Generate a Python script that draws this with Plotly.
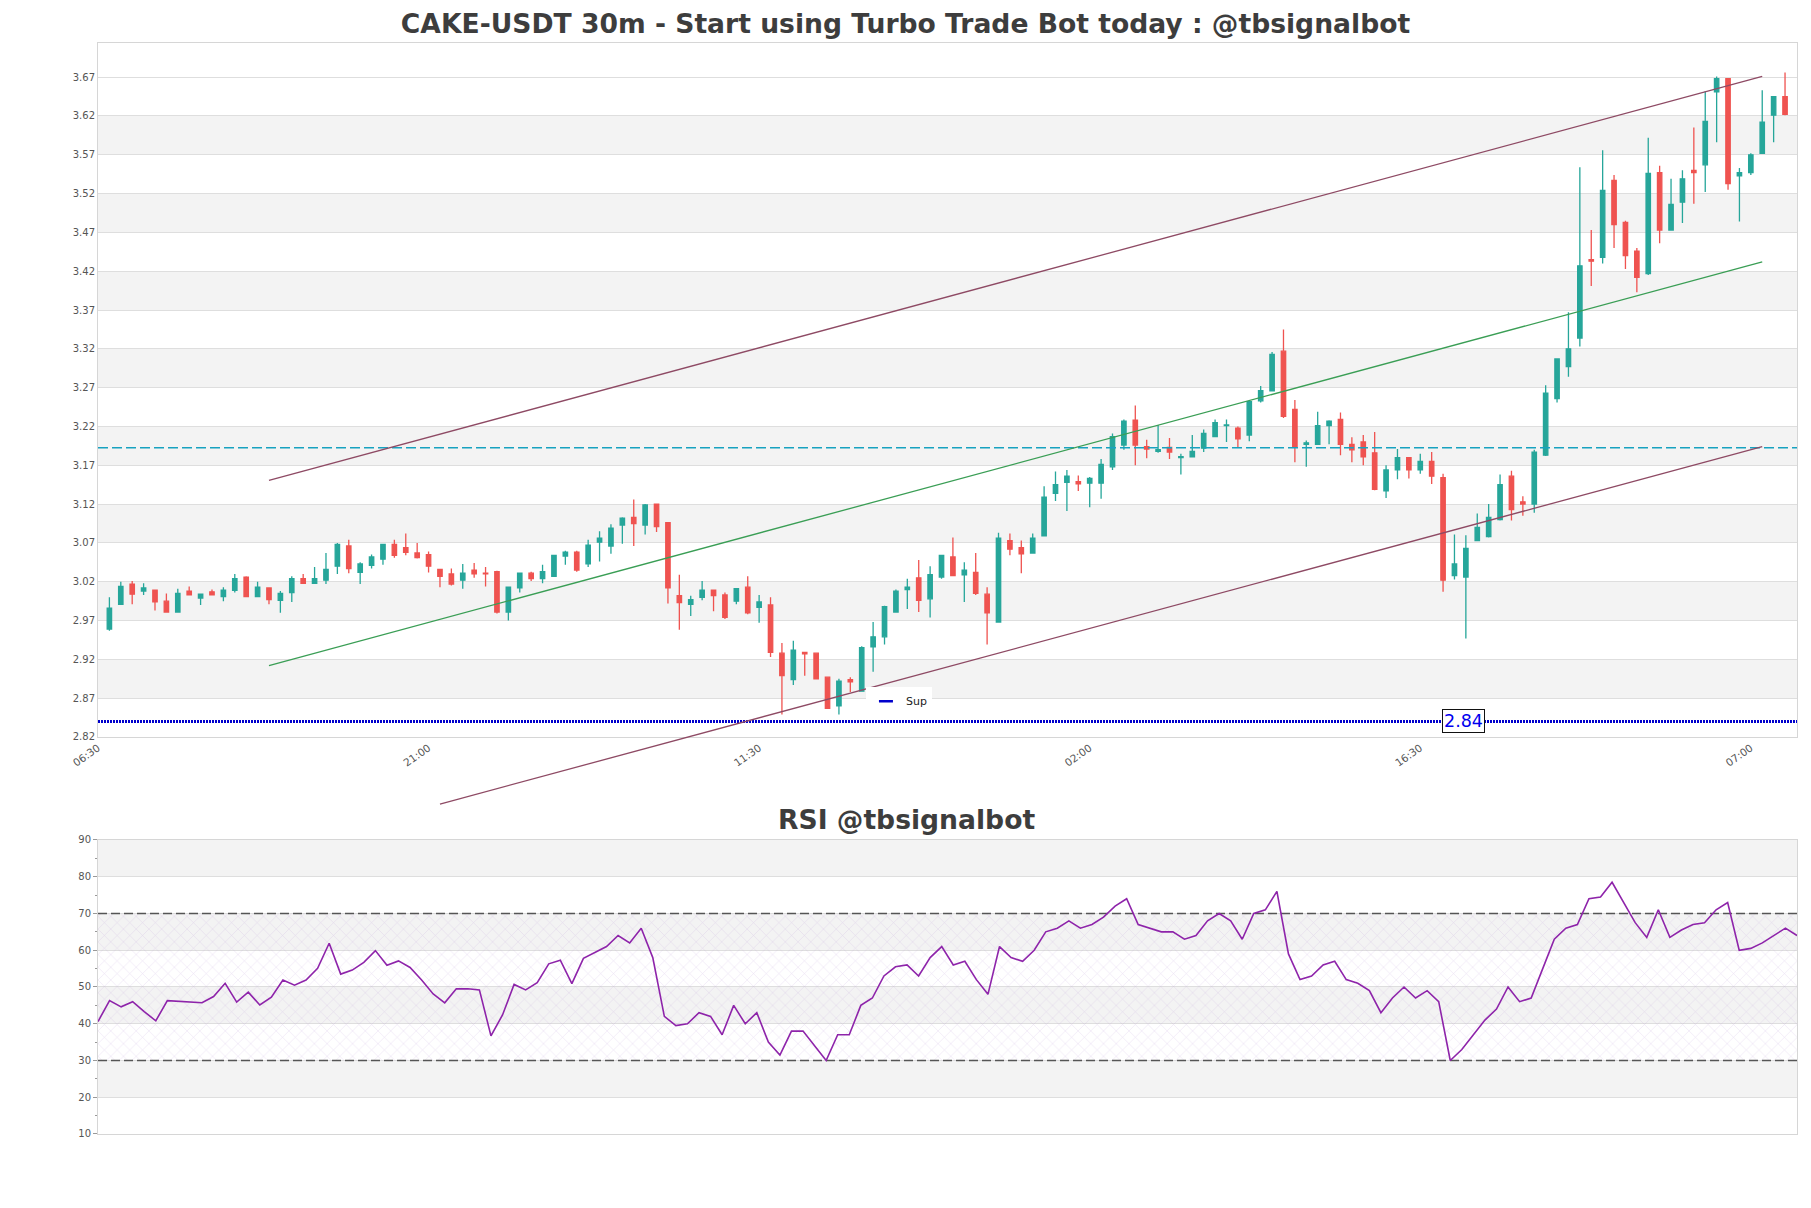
import plotly.graph_objects as go

# ---- candle data (30m bars, first bar 07:00) ----
opens = [2.959, 2.991, 3.017, 3.008, 3.009, 2.995, 2.981, 3.008, 2.999, 3.007,
         3.001, 3.009, 3.026, 3.001, 3.012, 2.996, 3.006, 3.024, 3.018, 3.022,
         3.040, 3.066, 3.032, 3.041, 3.049, 3.068, 3.064, 3.057, 3.055, 3.036,
         3.030, 3.022, 3.035, 3.031, 3.033, 2.981, 3.012, 3.031, 3.024, 3.027,
         3.053, 3.058, 3.043, 3.071, 3.066, 3.093, 3.103, 3.093, 3.120, 3.096,
         3.002, 2.991, 3.000, 3.009, 3.003, 2.995, 3.013, 2.987, 2.990, 2.928,
         2.894, 2.929, 2.928, 2.897, 2.860, 2.894, 2.879, 2.936, 2.949, 2.981,
         3.010, 3.025, 2.998, 3.026, 3.052, 3.029, 3.032, 3.004, 2.968, 3.073,
         3.064, 3.057, 3.079, 3.134, 3.148, 3.149, 3.147, 3.147, 3.168, 3.196,
         3.228, 3.194, 3.188, 3.193, 3.180, 3.181, 3.192, 3.207, 3.221, 3.218,
         3.209, 3.253, 3.266, 3.317, 3.242, 3.197, 3.197, 3.221, 3.229, 3.197,
         3.200, 3.186, 3.137, 3.164, 3.180, 3.164, 3.175, 3.154, 3.028, 3.026,
         3.073, 3.078, 3.100, 3.156, 3.123, 3.120, 3.183, 3.256, 3.297, 3.334,
         3.435, 3.438, 3.537, 3.483, 3.446, 3.417, 3.547, 3.473, 3.509, 3.550,
         3.557, 3.651, 3.668, 3.543, 3.547, 3.572, 3.621, 3.645]
highs = [3.000, 3.020, 3.021, 3.018, 3.009, 3.005, 3.011, 3.014, 3.005, 3.010,
         3.013, 3.030, 3.027, 3.020, 3.013, 3.008, 3.027, 3.030, 3.039, 3.057,
         3.070, 3.074, 3.045, 3.055, 3.068, 3.074, 3.082, 3.070, 3.059, 3.036,
         3.037, 3.043, 3.044, 3.039, 3.034, 3.013, 3.031, 3.033, 3.042, 3.054,
         3.060, 3.060, 3.074, 3.085, 3.094, 3.103, 3.126, 3.120, 3.120, 3.096,
         3.029, 3.002, 3.021, 3.009, 3.006, 3.012, 3.027, 3.003, 3.000, 2.941,
         2.944, 2.929, 2.928, 2.897, 2.895, 2.897, 2.937, 2.968, 2.989, 3.010,
         3.024, 3.048, 3.040, 3.054, 3.077, 3.045, 3.057, 3.013, 3.083, 3.082,
         3.073, 3.082, 3.143, 3.162, 3.164, 3.157, 3.155, 3.178, 3.211, 3.229,
         3.247, 3.203, 3.222, 3.205, 3.185, 3.209, 3.216, 3.229, 3.229, 3.220,
         3.252, 3.272, 3.316, 3.345, 3.254, 3.202, 3.239, 3.228, 3.238, 3.206,
         3.209, 3.213, 3.170, 3.191, 3.180, 3.185, 3.187, 3.159, 3.081, 3.080,
         3.108, 3.120, 3.158, 3.163, 3.130, 3.190, 3.273, 3.308, 3.367, 3.554,
         3.473, 3.576, 3.544, 3.485, 3.450, 3.592, 3.556, 3.539, 3.550, 3.605,
         3.652, 3.671, 3.668, 3.553, 3.572, 3.653, 3.645, 3.676]
lows = [2.957, 2.990, 2.991, 3.003, 2.983, 2.981, 2.981, 3.003, 2.990, 3.003,
        2.995, 3.006, 3.000, 3.001, 2.991, 2.980, 2.994, 3.018, 3.017, 3.017,
        3.030, 3.031, 3.017, 3.037, 3.042, 3.051, 3.054, 3.050, 3.032, 3.013,
        3.015, 3.011, 3.025, 3.014, 2.979, 2.970, 3.006, 3.021, 3.018, 3.027,
        3.042, 3.033, 3.039, 3.046, 3.056, 3.069, 3.066, 3.081, 3.084, 2.992,
        2.958, 2.976, 2.996, 2.982, 2.972, 2.991, 2.978, 2.967, 2.923, 2.849,
        2.887, 2.899, 2.895, 2.856, 2.849, 2.878, 2.879, 2.904, 2.939, 2.981,
        2.985, 2.981, 2.974, 3.024, 3.028, 2.994, 3.003, 2.939, 2.968, 3.054,
        3.031, 3.057, 3.079, 3.124, 3.111, 3.137, 3.116, 3.127, 3.164, 3.190,
        3.170, 3.179, 3.186, 3.178, 3.158, 3.181, 3.187, 3.207, 3.200, 3.193,
        3.201, 3.251, 3.266, 3.231, 3.174, 3.168, 3.197, 3.197, 3.183, 3.174,
        3.170, 3.138, 3.128, 3.152, 3.153, 3.159, 3.146, 3.007, 3.023, 2.947,
        3.072, 3.077, 3.099, 3.099, 3.105, 3.109, 3.182, 3.251, 3.284, 3.323,
        3.401, 3.430, 3.450, 3.423, 3.393, 3.415, 3.456, 3.472, 3.482, 3.507,
        3.522, 3.586, 3.525, 3.484, 3.544, 3.572, 3.586, 3.621]
closes = [2.986, 3.014, 3.004, 3.012, 2.994, 2.981, 3.005, 3.003, 3.004, 3.003,
          3.009, 3.024, 3.001, 3.013, 2.997, 3.005, 3.024, 3.018, 3.024, 3.036,
          3.068, 3.037, 3.043, 3.052, 3.068, 3.054, 3.058, 3.051, 3.040, 3.027,
          3.017, 3.031, 3.030, 3.030, 2.981, 3.013, 3.031, 3.024, 3.033, 3.054,
          3.058, 3.035, 3.067, 3.076, 3.089, 3.102, 3.095, 3.119, 3.091, 3.012,
          2.993, 2.997, 3.009, 3.002, 2.974, 3.011, 2.980, 2.994, 2.929, 2.899,
          2.932, 2.927, 2.895, 2.857, 2.892, 2.891, 2.935, 2.949, 2.988, 3.008,
          3.013, 2.996, 3.029, 3.054, 3.028, 3.035, 3.005, 2.980, 3.076, 3.062,
          3.056, 3.076, 3.129, 3.145, 3.156, 3.146, 3.153, 3.171, 3.207, 3.227,
          3.196, 3.191, 3.190, 3.187, 3.181, 3.188, 3.211, 3.225, 3.222, 3.204,
          3.252, 3.266, 3.313, 3.233, 3.193, 3.199, 3.221, 3.227, 3.197, 3.190,
          3.181, 3.139, 3.164, 3.180, 3.164, 3.175, 3.156, 3.022, 3.043, 3.063,
          3.090, 3.103, 3.145, 3.113, 3.120, 3.187, 3.263, 3.307, 3.320, 3.427,
          3.433, 3.524, 3.480, 3.440, 3.412, 3.546, 3.473, 3.506, 3.539, 3.547,
          3.613, 3.668, 3.533, 3.547, 3.570, 3.612, 3.645, 3.622]

rsi = [40.6, 46.3, 44.6, 46.0, 43.3, 40.8, 46.3, 46.1, 45.8, 45.7,
       47.4, 51.0, 45.9, 48.6, 45.1, 47.2, 51.9, 50.5, 51.9, 55.1,
       61.9, 53.5, 54.6, 56.7, 59.9, 55.9, 57.1, 55.3, 51.9, 48.1,
       45.7, 49.5, 49.5, 49.2, 36.7, 42.4, 50.7, 49.2, 51.2, 56.3,
       57.3, 50.9, 57.8, 59.5, 61.0, 64.0, 62.0, 66.0, 58.0, 42.0,
       39.5, 40.0, 43.0, 42.0, 37.0, 45.0, 40.0, 43.0, 35.0, 31.5,
       38.0, 38.0, 34.0, 30.0, 37.0, 37.0, 45.0, 47.0, 53.0, 55.5,
       56.0, 53.0, 58.0, 61.0, 56.0, 57.0, 52.0, 48.0, 61.0, 58.0,
       57.0, 60.0, 65.0, 66.0, 68.0, 66.0, 67.0, 69.0, 72.0, 74.0,
       67.0, 66.0, 65.0, 65.0, 63.0, 64.0, 68.0, 70.0, 68.0, 63.0,
       70.0, 71.0, 76.0, 59.0, 52.0, 53.0, 56.0, 57.0, 52.0, 51.0,
       49.0, 43.0, 47.0, 50.0, 47.0, 49.0, 46.0, 30.0, 33.0, 37.0,
       41.0, 44.0, 50.0, 46.0, 47.0, 55.0, 63.0, 66.0, 67.0, 74.0,
       74.5, 78.5, 73.0, 67.5, 63.5, 71.0, 63.5, 65.5, 67.0, 67.5,
       71.0, 73.0, 60.0, 60.5, 62.0, 64.0, 66.0, 64.0]

# x tick labels sit one bar before the first candle and every 29 bars after
tick_pos = [-1, 28, 57, 86, 115, 144]
tick_text = ['06:30', '21:00', '11:30', '02:00', '16:30', '07:00']

price_ticks = [2.82, 2.87, 2.92, 2.97, 3.02, 3.07, 3.12, 3.17, 3.22, 3.27,
               3.32, 3.37, 3.42, 3.47, 3.52, 3.57, 3.62, 3.67]
price_bands = [(2.87, 2.92), (2.97, 3.02), (3.07, 3.12), (3.17, 3.22),
               (3.27, 3.32), (3.37, 3.42), (3.47, 3.52), (3.57, 3.62)]
rsi_ticks = [10, 20, 30, 40, 50, 60, 70, 80, 90]
rsi_bands = [(20, 30), (40, 50), (60, 70), (80, 90)]

# channel lines
chan_x = [14, 145]
chan_upper = [3.1505, 3.671]
chan_mid = [2.912, 3.432]
low_x = [29, 145]
chan_lower = [2.7336, 3.194]

sup_level = 2.84
res_level = 3.1926

x_idx = list(range(len(closes)))
x_range = [-1, 148.05]
y_range = [2.82, 3.714]
rsi_range = [10, 90]

main_dom = [0.3639, 1.0]
rsi_dom = [0.0, 0.2695]
# the lower channel line runs below the price panel, so draw it on a
# hidden axis pair that shares the price scale but reaches lower
ext_lo = 2.72
frac_per_unit = (main_dom[1] - main_dom[0]) / (y_range[1] - y_range[0])
ext_dom = [main_dom[0] - (y_range[0] - ext_lo) * frac_per_unit, main_dom[1]]

UP = '#26a69a'
DOWN = '#ef5350'
GRID = '#dedede'
BAND = '#f3f3f3'
FRAME = '#d6d6d6'
TXT = '#555555'

fig = go.Figure()

fig.add_trace(go.Candlestick(
    x=x_idx, open=opens, high=highs, low=lows, close=closes,
    increasing=dict(line=dict(color=UP, width=1.3), fillcolor=UP),
    decreasing=dict(line=dict(color=DOWN, width=1.3), fillcolor=DOWN),
    showlegend=False, hoverinfo='skip',
    xaxis='x', yaxis='y'
))

fig.add_trace(go.Scatter(
    x=x_range, y=[res_level, res_level], mode='lines',
    line=dict(color='#17a2c0', width=1.3, dash='10px,4px'),
    showlegend=False, hoverinfo='skip', xaxis='x', yaxis='y'
))

fig.add_trace(go.Scatter(
    x=x_range, y=[sup_level, sup_level], mode='lines',
    line=dict(color='#0000cc', width=3, dash='2px,1px'),
    showlegend=False, hoverinfo='skip', xaxis='x', yaxis='y'
))

# legend entry for the support line
fig.add_trace(go.Scatter(
    x=[None], y=[None], mode='markers', name='Sup',
    marker=dict(symbol='line-ew-open', size=10, color='#0000cc',
                line=dict(color='#0000cc', width=2.5)),
    xaxis='x', yaxis='y'
))

for xs, ys, col in [(chan_x, chan_upper, '#8e4a64'),
                    (chan_x, chan_mid, '#3a9e55'),
                    (low_x, chan_lower, '#8e4a64')]:
    fig.add_trace(go.Scatter(
        x=xs, y=ys, mode='lines', line=dict(color=col, width=1.3),
        showlegend=False, hoverinfo='skip', xaxis='x3', yaxis='y3'
    ))

# RSI panel: hatched 30-70 zone, guide lines, RSI curve
fig.add_trace(go.Scatter(
    x=[0, len(rsi) - 1], y=[30, 30], mode='lines', line=dict(width=0),
    showlegend=False, hoverinfo='skip', xaxis='x2', yaxis='y2'
))
fig.add_trace(go.Scatter(
    x=[0, len(rsi) - 1], y=[70, 70], mode='lines', line=dict(width=0),
    fill='tonexty', fillcolor='rgba(0,0,0,0)',
    fillpattern=dict(shape='x', fgcolor='rgba(175,140,210,0.55)',
                     bgcolor='rgba(0,0,0,0)', size=9, solidity=0.12),
    showlegend=False, hoverinfo='skip', xaxis='x2', yaxis='y2'
))
for lvl in [30, 70]:
    fig.add_trace(go.Scatter(
        x=[0, len(rsi) - 1], y=[lvl, lvl], mode='lines',
        line=dict(color='#555555', width=1.3, dash='9px,4px'),
        showlegend=False, hoverinfo='skip', xaxis='x2', yaxis='y2'
    ))
fig.add_trace(go.Scatter(
    x=x_idx, y=rsi, mode='lines', line=dict(color='#8e24aa', width=1.6),
    showlegend=False, hoverinfo='skip', xaxis='x2', yaxis='y2'
))

shapes = []
for lo, hi in price_bands:
    shapes.append(dict(type='rect', xref='x domain', yref='y', x0=0, x1=1,
                       y0=lo, y1=hi, fillcolor=BAND, line=dict(width=0),
                       layer='below'))
for lo, hi in rsi_bands:
    shapes.append(dict(type='rect', xref='x2 domain', yref='y2', x0=0, x1=1,
                       y0=lo, y1=hi, fillcolor=BAND, line=dict(width=0),
                       layer='below'))

fig.update_layout(
    width=1811, height=1208,
    margin=dict(l=98, r=14, t=43, b=74),
    paper_bgcolor='white', plot_bgcolor='rgba(0,0,0,0)',
    font=dict(family='DejaVu Sans', color=TXT, size=10),
    title=dict(text='<b>CAKE-USDT 30m - Start using Turbo Trade Bot today : @tbsignalbot</b>',
               x=0.5, xref='container', xanchor='center',
               y=0.9805, yref='container', yanchor='middle',
               font=dict(family='DejaVu Sans', size=26.6, color='#3d3d3d')),
    shapes=shapes,
    boxgap=0.45,
    showlegend=True,
    legend=dict(x=0.452, y=0.41, xanchor='left', yanchor='top',
                bgcolor='white', borderwidth=0, itemwidth=30,
                font=dict(size=11, color='#222222')),
    xaxis=dict(domain=[0, 1], range=x_range, anchor='y',
               tickmode='array', tickvals=tick_pos, ticktext=tick_text,
               tickangle=-35, tickfont=dict(size=10.5, color=TXT),
               showgrid=False, zeroline=False, ticks='',
               showline=True, mirror=True, linecolor=FRAME, linewidth=1,
               rangeslider=dict(visible=False)),
    yaxis=dict(domain=main_dom, range=y_range, anchor='x',
               tickmode='array', tickvals=price_ticks,
               ticktext=['%.2f' % v for v in price_ticks],
               tickfont=dict(size=10, color=TXT), ticks='',
               showgrid=True, gridcolor=GRID, gridwidth=1, zeroline=False,
               showline=True, mirror=True, linecolor=FRAME, linewidth=1),
    xaxis3=dict(domain=[0, 1], range=x_range, anchor='y3', visible=False),
    yaxis3=dict(domain=ext_dom, range=[ext_lo, y_range[1]], anchor='x3',
                visible=False),
    xaxis2=dict(domain=[0, 1], range=[0, len(rsi) - 1], anchor='y2',
                showticklabels=False, showgrid=False, zeroline=False, ticks='',
                showline=True, mirror=True, linecolor=FRAME, linewidth=1),
    yaxis2=dict(domain=rsi_dom, range=rsi_range, anchor='x2',
                tickmode='array', tickvals=rsi_ticks,
                tickfont=dict(size=10, color=TXT),
                ticks='outside', ticklen=4, tickcolor='#999999',
                minor=dict(ticks='outside', ticklen=2, dtick=5, tick0=5,
                           tickcolor='#999999', showgrid=False),
                showgrid=True, gridcolor=GRID, gridwidth=1, zeroline=False,
                showline=True, mirror=True, linecolor=FRAME, linewidth=1),
    annotations=[
        dict(text='<b>RSI @tbsignalbot</b>', xref='paper', yref='paper',
             x=0.4756, y=0.2887, xanchor='center', yanchor='middle',
             showarrow=False,
             font=dict(family='DejaVu Sans', size=26.6, color='#3d3d3d')),
        dict(text='2.84', xref='x', yref='y', x=118.8, y=sup_level,
             xanchor='center', yanchor='middle', showarrow=False,
             font=dict(family='DejaVu Sans', size=17.5, color='#0000ee'),
             bgcolor='white', bordercolor='#111111', borderwidth=1,
             borderpad=1),
    ],
)

fig.write_html("out.html", config={'displayModeBar': False},
               post_script="document.body.style.margin='0';")
